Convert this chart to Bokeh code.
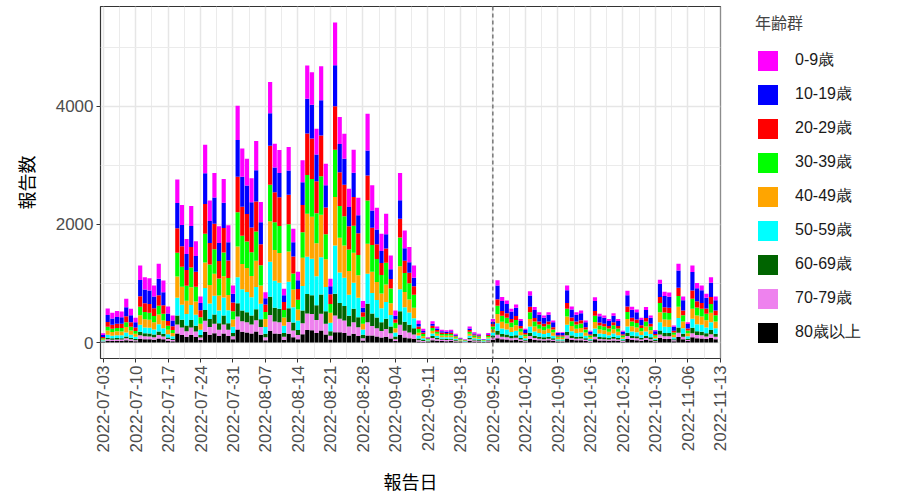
import pandas as pd
from bokeh.plotting import figure
from bokeh.models import (ColumnDataSource, Range1d, FixedTicker, DatetimeTickFormatter,
                          Legend, LegendItem, Span)
from bokeh.embed import file_html
from bokeh.resources import INLINE

# ---------------- data ----------------
start_date = "2022-07-03"
tick_dates = pd.date_range("2022-07-03", "2022-11-13", freq="7D")
marker_date = "2022-09-25"

labels = ["0-9歳", "10-19歳", "20-29歳", "30-39歳", "40-49歳",
          "50-59歳", "60-69歳", "70-79歳", "80歳以上"]
colors = ["#FF00FF", "#0000FF", "#FF0000", "#00FF00", "#FFA500",
          "#00FFFF", "#006400", "#EE82EE", "#000000"]

age_0_9 = [30, 109, 96, 101, 100, 141, 108, 80, 248, 210, 207, 184, 253, 200, 116, 87,
           400, 338, 254, 335, 249, 113, 486, 349, 416, 286, 402, 288, 140, 581, 476, 451, 403, 495, 345,
           102, 529, 404, 391, 109, 397, 231, 144, 370, 563, 549, 434, 575, 363, 130, 725, 458, 424, 313, 392, 294,
           112, 621, 426, 365, 295, 349, 236, 87, 459, 304, 259, 209, 60, 37,
           11, 43, 33, 26, 25, 26, 18, 10, 7, 33, 21, 18, 7, 19, 48,
           90, 65, 61, 49, 55, 34, 20, 74, 51, 44, 39, 44, 32, 15, 15, 82, 52, 44, 46, 32, 17,
           65, 41, 39, 34, 42, 34, 17, 74, 51, 48, 36, 51, 39, 18, 68, 73, 72, 25, 113, 66, 29,
           113, 86, 82, 70, 94, 66]
age_10_19 = [33, 121, 106, 112, 110, 155, 120, 88, 274, 232, 228, 203, 280, 221, 128, 96,
             428, 361, 271, 358, 266, 121, 519, 373, 445, 305, 429, 308, 150, 622, 509, 483, 431, 529, 369,
             107, 552, 421, 408, 114, 414, 241, 150, 386, 586, 572, 453, 600, 379, 135, 695, 477, 442, 326, 408, 306,
             77, 424, 293, 251, 203, 240, 162, 60, 316, 209, 178, 144, 41, 26,
             9, 36, 27, 22, 21, 22, 15, 8, 5, 27, 18, 15, 6, 16, 40,
             232, 169, 157, 126, 142, 88, 51, 191, 132, 113, 101, 113, 82, 39, 39, 213, 134, 113, 119, 82, 45,
             169, 107, 101, 88, 109, 88, 45, 193, 133, 123, 92, 132, 101, 46, 226, 189, 186, 64, 293, 172, 76,
             311, 221, 213, 182, 244, 172]
age_20_29 = [21, 78, 68, 72, 71, 100, 77, 57, 176, 149, 147, 130, 180, 142, 82, 62,
             414, 350, 263, 347, 257, 117, 503, 361, 431, 296, 416, 298, 145, 602, 492, 467, 417, 512, 357,
             128, 662, 505, 489, 137, 497, 289, 180, 463, 704, 686, 543, 690, 454, 162, 734, 573, 531, 391, 490, 368,
             77, 424, 293, 251, 203, 240, 162, 60, 316, 209, 178, 144, 41, 26,
             9, 36, 27, 22, 21, 22, 15, 8, 5, 27, 18, 15, 6, 16, 40,
             111, 81, 75, 60, 68, 42, 24, 91, 63, 54, 48, 54, 39, 18, 18, 101, 64, 54, 57, 39, 21,
             81, 51, 48, 42, 52, 42, 21, 92, 64, 59, 44, 63, 48, 22, 102, 90, 89, 30, 140, 82, 36,
             141, 106, 101, 87, 116, 82]
age_30_39 = [17, 63, 55, 58, 58, 81, 63, 46, 144, 122, 120, 106, 147, 116, 67, 50,
             400, 338, 254, 335, 249, 113, 486, 349, 416, 286, 402, 288, 140, 581, 476, 451, 403, 495, 345,
             119, 618, 471, 456, 127, 464, 270, 168, 432, 657, 641, 507, 650, 424, 151, 803, 535, 495, 365, 457, 343,
             119, 734, 452, 388, 313, 371, 251, 92, 488, 323, 275, 222, 63, 39,
             12, 47, 35, 28, 27, 28, 19, 10, 7, 35, 23, 20, 8, 21, 52,
             142, 104, 96, 77, 87, 54, 31, 117, 81, 69, 62, 69, 50, 24, 24, 130, 82, 69, 73, 50, 27,
             104, 66, 62, 54, 67, 54, 27, 118, 82, 76, 57, 81, 62, 28, 153, 116, 114, 39, 180, 105, 47,
             170, 136, 130, 111, 149, 105]
age_40_49 = [20, 72, 63, 66, 66, 93, 71, 53, 163, 138, 136, 121, 167, 131, 76, 57,
             359, 303, 228, 300, 223, 101, 436, 313, 373, 256, 360, 258, 126, 521, 427, 405, 361, 444, 309,
             132, 684, 522, 505, 141, 513, 299, 186, 478, 727, 709, 561, 720, 469, 167, 819, 592, 548, 404, 506, 380,
             95, 508, 359, 308, 249, 294, 199, 73, 387, 256, 218, 176, 50, 31,
             12, 47, 35, 28, 27, 28, 19, 10, 7, 35, 23, 20, 8, 21, 52,
             153, 112, 103, 83, 93, 58, 34, 126, 87, 75, 66, 75, 54, 25, 25, 140, 88, 75, 79, 54, 29,
             111, 70, 66, 58, 72, 58, 29, 127, 88, 81, 61, 87, 66, 30, 170, 125, 123, 42, 193, 113, 50,
             170, 146, 140, 120, 161, 113]
age_50_59 = [14, 52, 45, 48, 47, 67, 51, 38, 117, 100, 98, 87, 120, 95, 55, 41,
             304, 256, 193, 254, 189, 86, 369, 265, 316, 217, 305, 218, 106, 441, 361, 342, 306, 375, 262,
             115, 596, 455, 440, 123, 447, 260, 162, 416, 633, 618, 489, 630, 409, 146, 819, 516, 477, 352, 441, 331,
             91, 508, 346, 296, 239, 284, 192, 70, 373, 247, 210, 170, 48, 30,
             11, 43, 33, 26, 25, 26, 18, 10, 7, 33, 21, 18, 7, 19, 48,
             127, 92, 85, 69, 77, 48, 28, 104, 72, 62, 55, 62, 45, 21, 21, 116, 73, 62, 65, 45, 24,
             92, 58, 55, 48, 60, 48, 24, 105, 73, 67, 50, 72, 55, 25, 141, 103, 101, 35, 160, 94, 41,
             153, 121, 116, 99, 133, 94]
age_60_69 = [7, 26, 23, 24, 24, 33, 26, 19, 59, 50, 49, 43, 60, 47, 27, 21,
             152, 128, 96, 127, 94, 43, 184, 132, 158, 108, 152, 109, 53, 221, 181, 171, 153, 188, 131,
             60, 309, 236, 228, 64, 232, 135, 84, 216, 328, 320, 253, 330, 212, 76, 367, 267, 248, 182, 229, 172,
             56, 311, 213, 182, 147, 174, 118, 43, 230, 152, 129, 104, 30, 19,
             8, 33, 24, 19, 19, 19, 13, 7, 5, 24, 16, 13, 5, 14, 36,
             69, 50, 46, 37, 42, 26, 15, 57, 39, 33, 30, 33, 24, 11, 11, 63, 40, 33, 35, 24, 13,
             50, 32, 30, 26, 32, 26, 13, 57, 39, 36, 27, 39, 30, 14, 68, 56, 55, 19, 87, 51, 22,
             90, 65, 63, 54, 72, 51]
age_70_79 = [7, 26, 23, 24, 24, 33, 26, 19, 59, 50, 49, 43, 60, 47, 27, 21,
             152, 128, 96, 127, 94, 43, 184, 132, 158, 108, 152, 109, 53, 221, 181, 171, 153, 188, 131,
             51, 265, 202, 196, 55, 199, 116, 72, 185, 281, 275, 217, 280, 182, 65, 283, 229, 212, 156, 196, 147,
             42, 226, 160, 137, 111, 131, 89, 33, 172, 114, 97, 78, 22, 14,
             9, 36, 27, 21, 21, 21, 15, 8, 6, 27, 17, 15, 6, 16, 40,
             58, 42, 39, 31, 35, 22, 13, 48, 33, 28, 25, 28, 21, 10, 10, 53, 34, 28, 30, 21, 11,
             42, 27, 25, 22, 27, 22, 11, 48, 33, 31, 23, 33, 25, 12, 56, 47, 46, 16, 73, 43, 19,
             68, 55, 53, 45, 61, 43]
age_80_plus = [8, 29, 25, 27, 26, 37, 29, 21, 65, 55, 54, 48, 67, 53, 31, 23,
               152, 128, 96, 127, 94, 43, 184, 132, 158, 108, 152, 109, 53, 221, 181, 171, 153, 188, 131,
               38, 199, 152, 147, 41, 149, 87, 54, 139, 211, 206, 163, 205, 136, 49, 175, 172, 159, 117, 147, 110,
               32, 119, 120, 103, 83, 98, 66, 24, 129, 85, 73, 59, 17, 10,
               10, 40, 30, 24, 23, 24, 16, 9, 6, 30, 18, 16, 7, 18, 44,
               74, 54, 50, 40, 45, 28, 16, 61, 42, 36, 32, 36, 26, 12, 12, 68, 43, 36, 38, 26, 14,
               54, 34, 32, 28, 35, 28, 14, 61, 42, 39, 29, 42, 32, 15, 79, 60, 59, 20, 93, 55, 24,
               90, 70, 68, 58, 77, 55]

series = [age_0_9, age_10_19, age_20_29, age_30_39, age_40_49,
          age_50_59, age_60_69, age_70_79, age_80_plus]
keys = ["a0", "a1", "a2", "a3", "a4", "a5", "a6", "a7", "a8"]

n = len(age_0_9)
dates = pd.date_range(start_date, periods=n, freq="D")
data = {"date": dates}
for k, s in zip(keys, series):
    data[k] = s
source = ColumnDataSource(data)

DAY_MS = 24 * 3600 * 1000
def to_ms(ts):
    return (pd.Timestamp(ts) - pd.Timestamp("1970-01-01")) / pd.Timedelta(milliseconds=1)

tick_ms = [to_ms(t) for t in tick_dates]
minor_ms = [t + 3.5 * DAY_MS for t in tick_ms[:-1]]

# ---------------- figure ----------------
p = figure(frame_width=620, frame_height=352,
           x_axis_type="datetime",
           x_range=Range1d(to_ms("2022-07-03") - 0.55 * DAY_MS, to_ms("2022-11-13") + 0.05 * DAY_MS),
           y_range=Range1d(-271, 5691),
           output_backend="svg", toolbar_location=None,
           min_border_left=100, min_border_right=176, min_border_top=6, min_border_bottom=138,
           background_fill_color="white", border_fill_color="white")

# stacked bars: bottom = 80+, top = 0-9
stack_keys = keys[::-1]
stack_cols = colors[::-1]
renderers = p.vbar_stack(stack_keys, x="date", width=0.9 * DAY_MS, source=source,
                         fill_color=stack_cols, line_color=None)

# axes
p.xaxis.ticker = FixedTicker(ticks=tick_ms, minor_ticks=minor_ms)
p.xaxis.formatter = DatetimeTickFormatter(days="%Y-%m-%d", months="%Y-%m-%d", years="%Y-%m-%d",
                                          hours="%Y-%m-%d", minutes="%Y-%m-%d")
p.yaxis.ticker = FixedTicker(ticks=[0, 2000, 4000], minor_ticks=[1000, 3000, 5000])
p.xaxis.major_label_orientation = 1.5707963267948966

for ax in (p.xaxis[0], p.yaxis[0]):
    ax.axis_line_color = None
    ax.major_tick_line_color = "#333333"
    ax.major_tick_out = 4
    ax.major_tick_in = 0
    ax.minor_tick_line_color = None
    ax.major_label_text_font = "Liberation Sans"
    ax.major_label_text_font_size = "17px"
    ax.major_label_text_color = "#4D4D4D"
    ax.major_label_standoff = 3
    ax.axis_label_text_font = "Noto Sans CJK JP"
    ax.axis_label_text_font_size = "18px"
    ax.axis_label_text_font_style = "normal"
    ax.axis_label_text_color = "black"

p.xaxis.axis_label = "報告日"
p.yaxis.axis_label = "報告数"
p.xaxis.axis_label_standoff = 13
p.yaxis.axis_label_standoff = 14

# grid
for g in (p.xgrid[0], p.ygrid[0]):
    g.grid_line_color = "#E6E6E6"
    g.grid_line_width = 1.5
    g.minor_grid_line_color = "#EBEBEB"
    g.minor_grid_line_width = 1.0

p.outline_line_color = "#333333"
p.outline_line_width = 1.2

# dashed marker line
p.add_layout(Span(location=to_ms(marker_date), dimension="height",
                  line_color="#5A5A5A", line_dash="4 3", line_width=1.2))

# legend (0-9 at top), placed in the right-hand panel
items = [LegendItem(label=lab, renderers=[r])
         for lab, r in zip(labels, renderers[::-1])]
legend = Legend(items=items, location=(35, 13), title="年齢群",
                title_text_font="Noto Sans CJK JP", title_text_font_size="16px",
                title_text_font_style="normal", title_standoff=14,
                glyph_width=25, glyph_height=25, spacing=9, label_standoff=15,
                padding=0, margin=0,
                label_text_font="Liberation Sans", label_text_font_size="16px",
                label_text_color="#1A1A1A",
                border_line_color=None, background_fill_alpha=0)
p.add_layout(legend, "right")

open("out.html", "w").write(file_html(p, INLINE))
